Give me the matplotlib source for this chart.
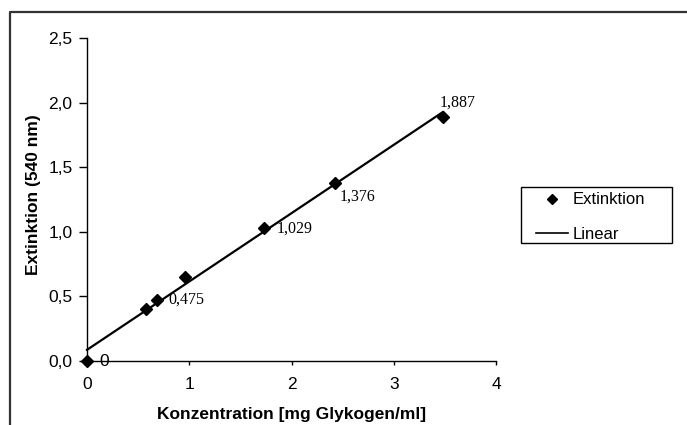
import numpy as np
import matplotlib
matplotlib.use("Agg")
import matplotlib.pyplot as plt
from matplotlib.lines import Line2D
from matplotlib.patches import Rectangle

# ---- data ----
conc = [0.0, 0.577, 0.687, 0.955, 1.73, 2.43, 3.48]
extinction = [0.0, 0.40, 0.475, 0.652, 1.029, 1.376, 1.887]
point_labels = ["0", "", "0,475", "", "1,029", "1,376", "1,887"]
x_ticks = [0, 1, 2, 3, 4]
x_tick_labels = ["0", "1", "2", "3", "4"]
y_ticks = [0.0, 0.5, 1.0, 1.5, 2.0, 2.5]
y_tick_labels = ["0,0", "0,5", "1,0", "1,5", "2,0", "2,5"]
x_title = "Konzentration [mg Glykogen/ml]"
y_title = "Extinktion (540 nm)"
legend_labels = ["Extinktion", "Linear"]

plt.rcParams['font.family'] = ['Liberation Sans', 'DejaVu Sans']

W, H = 687, 425
fig = plt.figure(figsize=(W / 100, H / 100), dpi=100)
fig.patch.set_facecolor("white")

def fx(px):
    return px / W

def fy(py):
    return 1 - py / H

ax = fig.add_axes([fx(87), fy(361), fx(496) - fx(87), fy(38) - fy(361)])
ax.set_xlim(0, 4)
ax.set_ylim(0, 2.5)

# trend line (least squares fit of the data)
coef = np.polyfit(conc, extinction, 1)
xt = np.array([0.0, max(conc)])
ax.plot(xt, np.polyval(coef, xt), color="black", lw=1.6, zorder=2, clip_on=False)

# data points
ax.plot(conc, extinction, linestyle="none", marker="D", markersize=6.5,
        color="black", zorder=3, clip_on=False)

# data labels
offsets = {0: (12, 0), 2: (11, 0), 4: (13, -1), 5: (4, -13), 6: (-3, 15)}
for i, lbl in enumerate(point_labels):
    if not lbl:
        continue
    dx, dy = offsets[i]
    fam = ['Liberation Sans'] if i == 0 else ['Liberation Serif', 'DejaVu Serif']
    ax.annotate(lbl, (conc[i], extinction[i]), xytext=(dx, dy),
                textcoords="offset pixels", ha="left", va="center",
                fontsize=12.5 if i == 0 else 11.5, family=fam, color="black")

# axes styling
for s in ["top", "right"]:
    ax.spines[s].set_visible(False)
for s in ["left", "bottom"]:
    ax.spines[s].set_color("black")
    ax.spines[s].set_linewidth(1.0)

ax.set_xticks(x_ticks, labels=x_tick_labels)
ax.set_yticks(y_ticks, labels=y_tick_labels)
ax.tick_params(axis="x", direction="out", length=3, width=1, pad=8.5, labelsize=12.5)
ax.tick_params(axis="y", direction="out", length=6, width=1, pad=4.5, labelsize=12.5)

# axis titles
fig.text(fx(292), fy(415), x_title, ha="center", va="center",
         fontsize=12.5, fontweight="bold")
fig.text(fx(34), fy(195), y_title, ha="center", va="center", rotation=90,
         fontsize=12.5, fontweight="bold")

# legend
handles = [Line2D([], [], linestyle="none", marker="D", markersize=5, color="black"),
           Line2D([], [], color="black", lw=1.2)]
leg = ax.legend(handles, legend_labels, loc="center left",
                bbox_to_anchor=(fx(536), fy(217)), bbox_transform=fig.transFigure,
                frameon=False, borderpad=0, borderaxespad=0, handlelength=1.92,
                handletextpad=0.28, labelspacing=1.15, fontsize=12)
fig.add_artist(Rectangle((fx(520.5), fy(243.3)), fx(672.3) - fx(520.5), fy(186.7) - fy(243.3),
                         transform=fig.transFigure, fill=False, edgecolor="black", lw=1.0))

# outer frame of the figure (left and top edges visible)
fig.add_artist(Line2D([fx(10), fx(10), fx(687)], [0, fy(12), fy(12)],
                      transform=fig.transFigure, color="#333333", lw=1.6))

fig.savefig("out.png", dpi=100)
